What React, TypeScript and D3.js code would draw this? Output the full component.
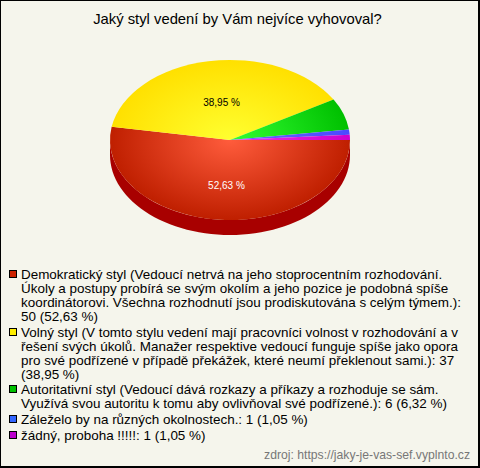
import React from "react";
import * as d3 from "d3";

const title = "Jaký styl vedení by Vám nejvíce vyhovoval?";
const categories = ["Demokratický styl", "Volný styl", "Autoritativní styl", "Záleželo by na různých okolnostech.", "žádný, proboha !!!!!"];
const counts = [50, 37, 6, 1, 1];
const centerColors = ["#ff5c3c", "#ffff30", "#33ff33", "#6666ff", "#ee30ee"];
const edgeColors = ["#bf1f00", "#ffe000", "#00c000", "#4a4aff", "#cc00cc"];
const swatchColors = ["#cc2200", "#ffee00", "#00c000", "#3366ff", "#bb00cc"];
const sliceLabels: (string | null)[] = ["52,63 %", "38,95 %", null, null, null];
const labelRadius = [0.56, 0.48, 0, 0, 0];
const labelShift = [2, 2, 0, 0, 0];
const labelColors = ["#ffffff", "#000000", "#000", "#000", "#000"];
const legendLines = [
  ["Demokratický styl (Vedoucí netrvá na jeho stoprocentním rozhodování.", "Úkoly a postupy probírá se svým okolím a jeho pozice je podobná spíše", "koordinátorovi. Všechna rozhodnutí jsou prodiskutována s celým týmem.):", "50 (52,63 %)"],
  ["Volný styl (V tomto stylu vedení mají pracovníci volnost v rozhodování a v", "řešení svých úkolů. Manažer respektive vedoucí funguje spíše jako opora", "pro své podřízené v případě překážek, které neumí překlenout sami.): 37", "(38,95 %)"],
  ["Autoritativní styl (Vedoucí dává rozkazy a příkazy a rozhoduje se sám.", "Využívá svou autoritu k tomu aby ovlivňoval své podřízené.): 6 (6,32 %)"],
  ["Záleželo by na různých okolnostech.: 1 (1,05 %)"],
  ["žádný, proboha !!!!!: 1 (1,05 %)"],
];
const source = "zdroj: https://jaky-je-vas-sef.vyplnto.cz";

const W = 480, H = 468, cx = 230, cy = 140, rx = 120, ry = 80, depth = 15;
const font = "'Liberation Sans', Arial, sans-serif";

export default function App() {
  const pie = d3.pie<number>().sort(null).startAngle(Math.PI / 2).endAngle(Math.PI / 2 + 2 * Math.PI);
  const slices = pie(counts);
  const arc = d3.arc<d3.PieArcDatum<number>>().innerRadius(0).outerRadius(rx);
  const yScale = ry / rx;

  // front wall of the pie: only the red slice faces the viewer
  const frontAngles = d3.range(0, 181, 3).map((d) => (d * Math.PI) / 180);
  const top = frontAngles.map((a) => [cx + rx * Math.cos(a), cy + ry * Math.sin(a)] as [number, number]);
  const bottom = [...top].reverse().map(([x, y]) => [x, y + depth] as [number, number]);
  const wall = d3.line()([...top, ...bottom]) + "Z";

  let y = 279;
  const lineH = 14;
  return (
    <svg width={W} height={H} style={{ position: "absolute", left: 0, top: 0 }} fontFamily={font}>
      <defs>
        {centerColors.map((c, i) => (
          <radialGradient key={i} id={`g${i}`} gradientUnits="userSpaceOnUse" cx={0} cy={0} r={rx}>
            <stop offset="0%" stopColor={c} />
            <stop offset="100%" stopColor={edgeColors[i]} />
          </radialGradient>
        ))}
      </defs>
      <rect x={0.5} y={0.5} width={W - 1} height={H - 1} fill="#f5f5ec" stroke="#000" strokeWidth={1} />
      <rect x={1} y={H - 2} width={W - 2} height={1} fill="#000" />
      <rect x={W - 2} y={1} width={1} height={H - 2} fill="#000" />
      <text x={237.5} y={24} textAnchor="middle" fontSize={14.8} fill="#000">{title}</text>
      <path d={wall} fill="#a80000" />
      <g transform={`translate(${cx},${cy}) scale(1,${yScale})`}>
        {slices.map((s, i) => (
          <path key={i} d={arc(s) || ""} fill={`url(#g${i})`} />
        ))}
      </g>
      {slices.map((s, i) => {
        const label = sliceLabels[i];
        if (!label) return null;
        const mid = (s.startAngle + s.endAngle) / 2;
        const lx = cx + rx * labelRadius[i] * Math.sin(mid) + labelShift[i];
        const ly = cy - ry * labelRadius[i] * Math.cos(mid) + 4;
        return (
          <text key={i} x={lx} y={ly} textAnchor="middle" fontSize={10} fill={labelColors[i]}>{label}</text>
        );
      })}
      {legendLines.map((lines, i) => {
        const y0 = Math.round(y);
        y += lines.length * lineH + 1.7;
        return (
          <g key={i}>
            <rect x={9.5} y={y0 - 8.5} width={7} height={7} fill={swatchColors[i]} stroke="#000" />
            {lines.map((t, j) => (
              <text key={j} x={21} y={y0 + j * lineH} fontSize={13.45} fill="#000">{t}</text>
            ))}
          </g>
        );
      })}
      <text x={470} y={459} textAnchor="end" fontSize={12.2} fill="#777">{source}</text>
    </svg>
  );
}
